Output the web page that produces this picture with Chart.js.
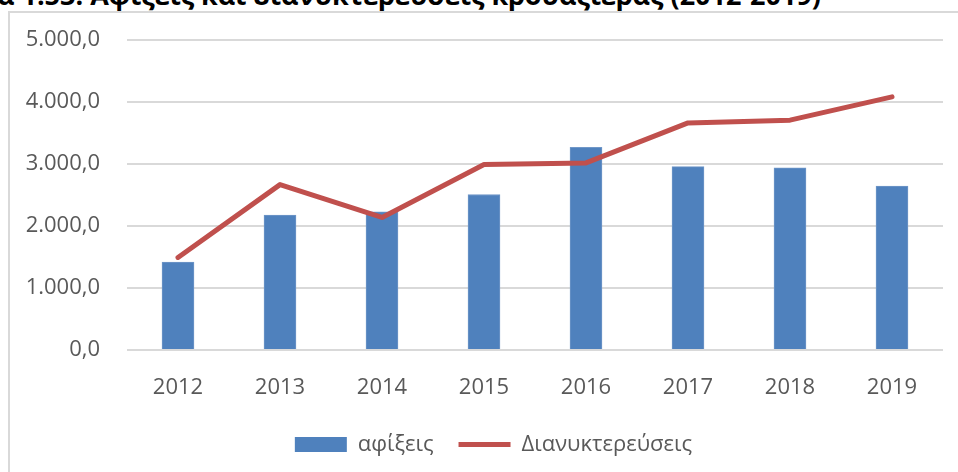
<!DOCTYPE html>
<html>
<head>
<meta charset="utf-8">
<script src="https://cdn.jsdelivr.net/npm/chart.js@4.4.1/dist/chart.umd.min.js"></script>
<style>
  html, body { margin: 0; padding: 0; background: #fff; }
  body { width: 958px; height: 472px; position: relative; overflow: hidden; }
  #title { position: absolute; left: -3px; top: -19px; font: bold 27px/27px "Open Sans", sans-serif; color: #000; white-space: nowrap; }
  #frame { position: absolute; left: 8px; top: 11px; width: 1000px; height: 500px; border: 2px solid #d9d9d9; box-sizing: border-box; }
  #wrap { position: absolute; left: 0; top: 0; width: 958px; height: 472px; }
</style>
</head>
<body>
<div id="title">α 1.53: Αφίξεις και διανυκτερεύσεις κρουαζιέρας (2012-2019)</div>
<div id="frame"></div>
<div id="wrap"><canvas id="chart"></canvas></div>
<script>
// values
const years = ["2012", "2013", "2014", "2015", "2016", "2017", "2018", "2019"];
const arrivals = [1420, 2180, 2230, 2510, 3270, 2960, 2940, 2645];
const overnights = [1495, 2670, 2140, 2995, 3020, 3665, 3710, 4085];
const seriesNames = ["αφίξεις", "Διανυκτερεύσεις"];

const grey = "#595959";
const fmt = v => v.toLocaleString("de-DE", { minimumFractionDigits: 1, maximumFractionDigits: 1 });

Chart.defaults.font.family = "'Open Sans', sans-serif";
Chart.defaults.font.size = 22;
Chart.defaults.color = grey;

// legend in the original sits a bit right of the canvas centre
const legendShift = {
  id: "legendShift",
  afterLayout(chart) {
    chart.legend.left += 22;
    chart.legend.right += 22;
  }
};

new Chart(document.getElementById("chart"), {
  data: {
    labels: years,
    datasets: [
      {
        type: "line",
        label: seriesNames[1],
        data: overnights,
        borderColor: "#c0504d",
        backgroundColor: "#c0504d",
        borderWidth: 5,
        borderCapStyle: "round",
        borderJoinStyle: "round",
        pointRadius: 0,
        tension: 0,
        order: 1
      },
      {
        type: "bar",
        label: seriesNames[0],
        data: arrivals,
        backgroundColor: "#4f81bd",
        borderColor: "#7097c8",
        borderWidth: 1,
        barThickness: 32,
        order: 2
      }
    ]
  },
  options: {
    responsive: true,
    maintainAspectRatio: false,
    animation: false,
    layout: { padding: { left: 0, right: 15, top: 40, bottom: 6.5 } },
    scales: {
      x: {
        grid: { display: false },
        border: { display: false },
        ticks: { padding: 16 },
        afterFit: s => { s.height -= 8; }
      },
      y: {
        min: 0,
        max: 5000,
        afterFit: s => { s.width = 127; },
        grid: { color: "#d9d9d9", lineWidth: 2, drawTicks: false },
        border: { display: false },
        ticks: { stepSize: 1000, padding: 27, callback: v => fmt(v) }
      }
    },
    plugins: {
      tooltip: { enabled: false },
      legend: {
        position: "bottom",
        reverse: true,
        labels: {
          usePointStyle: true,
          pointStyleWidth: 52,
          boxHeight: 15,
          padding: 25,
          generateLabels: chart => {
            const items = Chart.defaults.plugins.legend.labels.generateLabels(chart);
            items.forEach(it => {
              const ds = chart.data.datasets[it.datasetIndex];
              it.pointStyle = ds.type === "line" ? "line" : "rect";
              if (ds.type !== "line") { it.lineWidth = 0; it.strokeStyle = ds.backgroundColor; }
            });
            return items;
          }
        }
      }
    }
  },
  plugins: [legendShift]
});
</script>
</body>
</html>
